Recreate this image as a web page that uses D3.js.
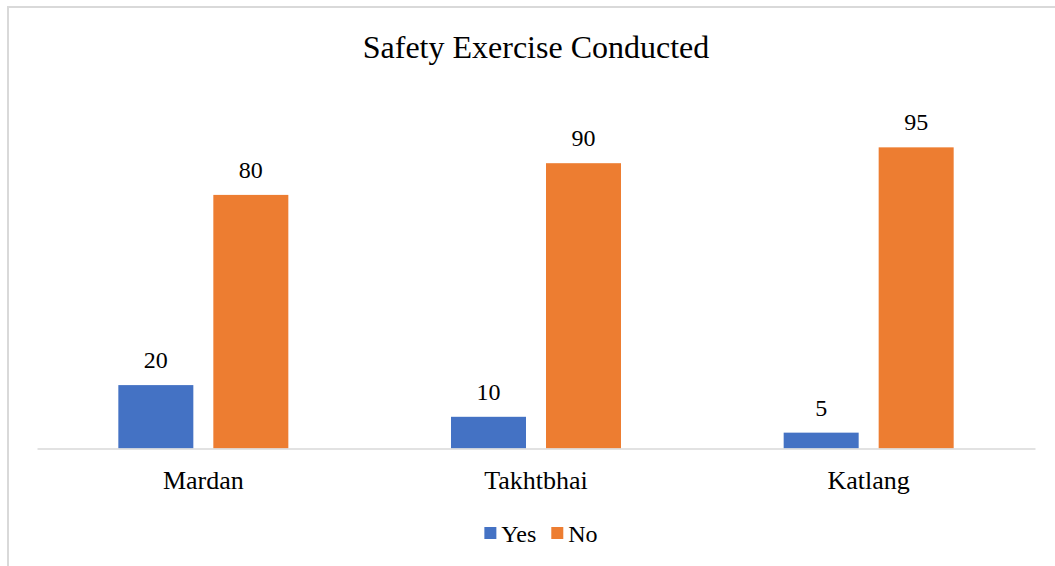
<!DOCTYPE html>
<html>
<head>
<meta charset="utf-8">
<script src="https://cdn.jsdelivr.net/npm/d3@7"></script>
<style>
  body { margin: 0; background: #fff; }
  text { font-family: "Liberation Serif", "Times New Roman", serif; fill: #000; }
</style>
</head>
<body>
<div id="chart"></div>
<script>
// data
var categories = ["Mardan", "Takhtbhai", "Katlang"];
var seriesNames = ["Yes", "No"];
var yesValues = [20, 10, 5];
var noValues = [80, 90, 95];
var seriesColors = ["#4472C4", "#ED7D31"];

var svgWidth = 1055, svgHeight = 566;
var plotLeft = 37, plotRight = 1035, baseY = 448.5, topY = 131.5;

var svg = d3.select("#chart").append("svg")
    .attr("width", svgWidth)
    .attr("height", svgHeight);

// chart border (right/bottom are off the picture)
svg.append("rect")
    .attr("x", 8).attr("y", 7)
    .attr("width", 1200).attr("height", 700)
    .attr("fill", "none")
    .attr("stroke", "#D9D9D9")
    .attr("stroke-width", 2);

var x0 = d3.scaleBand().domain(categories).range([plotLeft, plotRight]);
var x1 = d3.scaleBand().domain(seriesNames).range([-85, 85]).paddingInner(0.2105);
var y = d3.scaleLinear().domain([0, 100]).range([baseY, topY]);
var color = d3.scaleOrdinal().domain(seriesNames).range(seriesColors);

var rows = categories.map(function(c, i) {
    return { cat: c, vals: [ { s: "Yes", v: yesValues[i] }, { s: "No", v: noValues[i] } ] };
});

// title
svg.append("text")
    .attr("x", (plotLeft + plotRight) / 2)
    .attr("y", 58)
    .attr("text-anchor", "middle")
    .style("font-size", "32px")
    .text("Safety Exercise Conducted");

var groups = svg.selectAll(".grp")
    .data(rows)
    .enter().append("g")
    .attr("class", "grp")
    .attr("transform", function(d) { return "translate(" + (x0(d.cat) + x0.bandwidth() / 2) + ",0)"; });

groups.selectAll("rect")
    .data(function(d) { return d.vals; })
    .enter().append("rect")
    .attr("x", function(d) { return x1(d.s); })
    .attr("y", function(d) { return y(d.v); })
    .attr("width", x1.bandwidth())
    .attr("height", function(d) { return baseY - y(d.v); })
    .attr("fill", function(d) { return color(d.s); });

// value labels
groups.selectAll(".lbl")
    .data(function(d) { return d.vals; })
    .enter().append("text")
    .attr("class", "lbl")
    .attr("x", function(d) { return x1(d.s) + x1.bandwidth() / 2; })
    .attr("y", function(d) { return y(d.v) - 17; })
    .attr("text-anchor", "middle")
    .style("font-size", "24px")
    .text(function(d) { return d.v; });

// x axis
var xAxis = svg.append("g")
    .attr("transform", "translate(0," + baseY + ")")
    .call(d3.axisBottom(x0).tickSize(0).tickSizeOuter(0));
xAxis.select(".domain")
    .attr("stroke", "#D9D9D9")
    .attr("stroke-width", 1.5);
xAxis.selectAll("text")
    .attr("y", 40)
    .attr("dy", null)
    .style("font-size", "26px")
    .style("font-family", "'Liberation Serif', 'Times New Roman', serif")
    .attr("fill", "#000");

// legend
var legend = svg.append("g");
var lx = 0;
seriesNames.forEach(function(s) {
    var item = legend.append("g").attr("transform", "translate(" + lx + ",0)");
    item.append("rect")
        .attr("x", 0).attr("y", 527)
        .attr("width", 12).attr("height", 12)
        .attr("fill", color(s));
    var t = item.append("text")
        .attr("x", 17).attr("y", 542)
        .style("font-size", "24px")
        .text(s);
    lx += 17 + t.node().getComputedTextLength() + 15;
});
var legendW = lx - 15;
legend.attr("transform", "translate(" + ((plotLeft + plotRight) / 2 - legendW / 2 + 5) + ",0)");
</script>
</body>
</html>
